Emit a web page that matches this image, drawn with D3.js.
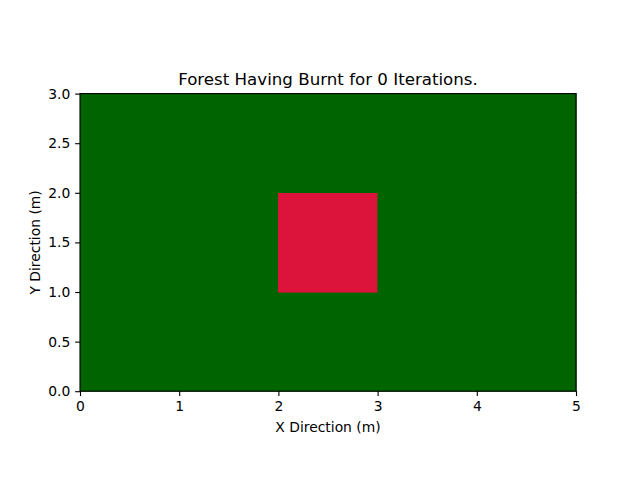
<!DOCTYPE html>
<html>
<head>
<meta charset="utf-8">
<script src="https://cdn.jsdelivr.net/npm/d3@7"></script>
<style>
body{margin:0;background:#fff;}
svg{display:block;font-family:"DejaVu Sans",sans-serif;}
</style>
</head>
<body>
<svg width="640" height="480"></svg>
<script>
// grid edges and cell states (0 = tree, 1 = burning), rows from y=0 upward
var xEdges=[0,1,2,3,4,5]
var yEdges=[0,1,2,3]
var states=[
    [0,0,0,0,0],
    [0,0,1,0,0],
    [0,0,0,0,0]
]
var stateColors=["#006400","#dc143c"]
var xTicks=[0,1,2,3,4,5]
var yTicks=[0,0.5,1,1.5,2,2.5,3]
var iterations=0

var margins={left:80,right:64,top:93.6,bottom:88.8}
var width=640-margins.left-margins.right
var height=480-margins.top-margins.bottom

var svg=d3.select("svg")
var g=svg.append("g")
    .attr("transform","translate("+margins.left+","+margins.top+")")

var xScale=d3.scaleLinear().domain([0,5]).range([0,width])
var yScale=d3.scaleLinear().domain([0,3]).range([height,0])
var cScale=d3.scaleOrdinal().domain([0,1]).range(stateColors)

var cells=[]
states.forEach(function(row,j){
    row.forEach(function(s,i){
        cells.push({x0:xEdges[i],x1:xEdges[i+1],y0:yEdges[j],y1:yEdges[j+1],s:s})
    })
})

g.selectAll("rect.cell")
    .data(cells)
    .enter()
    .append("rect")
    .attr("class","cell")
    .attr("x",function(d){return xScale(d.x0)})
    .attr("y",function(d){return yScale(d.y1)})
    .attr("width",function(d){return xScale(d.x1)-xScale(d.x0)})
    .attr("height",function(d){return yScale(d.y0)-yScale(d.y1)})
    .attr("fill",function(d){return cScale(d.s)})
    .attr("stroke",function(d){return cScale(d.s)})
    .attr("stroke-width",0.6)
    .attr("shape-rendering","crispEdges")

var tick=4.86
var xAxis=d3.axisBottom(xScale).tickValues(xTicks).tickFormat(d3.format("d")).tickSize(tick).tickPadding(4.86)
var yAxis=d3.axisLeft(yScale).tickValues(yTicks).tickFormat(d3.format(".1f")).tickSize(tick).tickPadding(4.86)

var gx=g.append("g").attr("transform","translate(0,"+height+")").call(xAxis)
var gy=g.append("g").call(yAxis)
;[gx,gy].forEach(function(a){
    a.select(".domain").remove()
    a.selectAll("line").attr("stroke","#000").attr("stroke-width",1.11)
    a.selectAll("text").attr("font-size","13.89px").attr("fill","#000").attr("font-family","DejaVu Sans")
})

g.append("rect")
    .attr("width",width).attr("height",height)
    .attr("fill","none").attr("stroke","#000").attr("stroke-width",1.11)

g.append("text")
    .attr("x",width/2).attr("y",-8.33)
    .attr("text-anchor","middle")
    .attr("font-size","16.67px")
    .text("Forest Having Burnt for "+iterations+" Iterations.")

g.append("text")
    .attr("x",width/2).attr("y",height+41)
    .attr("text-anchor","middle")
    .attr("font-size","13.89px")
    .text("X Direction (m)")

g.append("text")
    .attr("transform","translate(-40,"+(height/2)+") rotate(-90)")
    .attr("text-anchor","middle")
    .attr("font-size","13.89px")
    .text("Y Direction (m)")
</script>
</body>
</html>
